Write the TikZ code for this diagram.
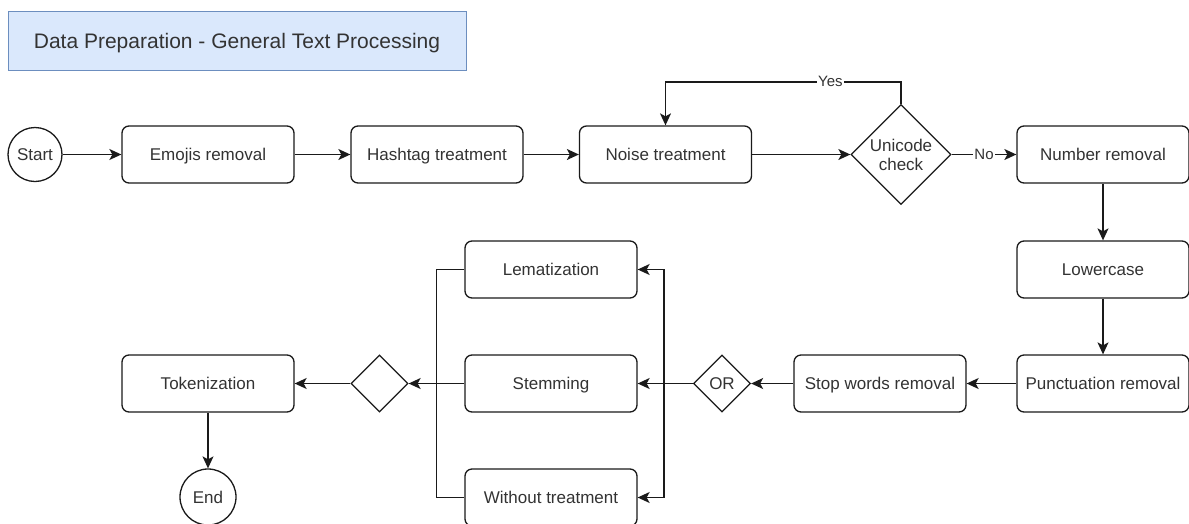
\documentclass[tikz,border=0pt]{standalone}
\usepackage{fontspec}
\setmainfont{Liberation Sans}
\usetikzlibrary{shapes.geometric,arrows.meta}

\definecolor{txt}{HTML}{333333}
\definecolor{ln}{HTML}{1A1A1A}
\definecolor{titlefill}{HTML}{DAE8FC}
\definecolor{titleline}{HTML}{6C8EBF}

\tikzset{
  proc/.style={draw=ln, line width=1.3pt, rounded corners=7pt, fill=white,
    minimum width=172pt, minimum height=57pt, inner sep=0pt,
    text height=12.2pt, text depth=0pt,
    text=txt, font=\fontsize{17}{20}\selectfont},
  term/.style={draw=ln, line width=1.3pt, circle, fill=white, inner sep=0pt,
    text height=12.2pt, text depth=0pt,
    text=txt, font=\fontsize{17}{20}\selectfont},
  decide/.style={draw=ln, line width=1.3pt, diamond, aspect=1, fill=white,
    inner sep=0pt, align=center, text=txt, font=\fontsize{17}{19}\selectfont},
  arr/.style={draw=ln, line width=1.3pt,
    -{Stealth[length=12pt,width=11pt,inset=3pt]}},
  wire/.style={draw=ln, line width=1.3pt},
  lbl/.style={fill=white, inner sep=1pt, text=txt, font=\fontsize{15}{17}\selectfont},
  heading/.style={draw=titleline, line width=1pt, fill=titlefill,
    minimum width=458pt, minimum height=59pt, inner sep=0pt,
    text height=15pt, text depth=0pt,
    text=txt, font=\fontsize{21}{24}\selectfont}
}

\begin{document}
\begin{tikzpicture}[x=1pt,y=1pt]
\useasboundingbox (0,0) rectangle (1189,-523);

% heading
\node[heading] (title) at (237,-40.5) {Data Preparation - General Text Processing};

% first row
\node[term, minimum size=54pt] (start) at (35,-154.5) {Start};
\node[proc] (emoji) at (208,-154.5) {Emojis removal};
\node[proc] (hash) at (437,-154.5) {Hashtag treatment};
\node[proc] (noise) at (665.5,-154.5) {Noise treatment};
\node[decide, minimum size=100pt] (uni) at (901,-154.5) {Unicode\\check};
\node[proc] (num) at (1103,-154.5) {Number removal};

% right column
\node[proc] (lower) at (1103,-269.5) {Lowercase};
\node[proc] (punct) at (1103,-383.5) {Punctuation removal};

% bottom row
\node[proc] (stop) at (880,-383.5) {Stop words removal};
\node[decide, minimum size=57pt] (or) at (722,-383.5) {OR};
\node[proc] (lem) at (551,-269.5) {Lematization};
\node[proc] (stem) at (551,-383.5) {Stemming};
\node[proc] (none) at (551,-497.5) {Without treatment};
\node[decide, minimum size=57pt] (merge) at (379.5,-383.5) {};
\node[proc] (tok) at (208,-383.5) {Tokenization};
\node[term, minimum size=56pt] (end) at (208,-497) {End};

% connectors
\draw[arr] (start.east) -- (emoji.west);
\draw[arr] (emoji) -- (hash);
\draw[arr] (hash) -- (noise);
\draw[arr] (noise) -- (uni);
\draw[arr] (uni.north) -- ++(0,22) -| node[lbl, pos=0.15] {Yes} (noise.north);
\draw[arr] (uni.east) -- node[lbl] {No} (num.west);
\draw[arr] (num) -- (lower);
\draw[arr] (lower) -- (punct);
\draw[arr] (punct) -- (stop);
\draw[arr] (stop) -- (or);
\draw[arr] (or.west) -- (stem.east);
\draw[arr] (or.west) -- ++(-29,0) |- (lem.east);
\draw[arr] (or.west) -- ++(-29,0) |- (none.east);
\draw[wire] (lem.west) -- ++(-28,0) |- (none.west);
\draw[arr] (stem.west) -- (merge.east);
\draw[arr] (merge.west) -- (tok.east);
\draw[arr] (tok) -- (end);
\end{tikzpicture}
\end{document}
